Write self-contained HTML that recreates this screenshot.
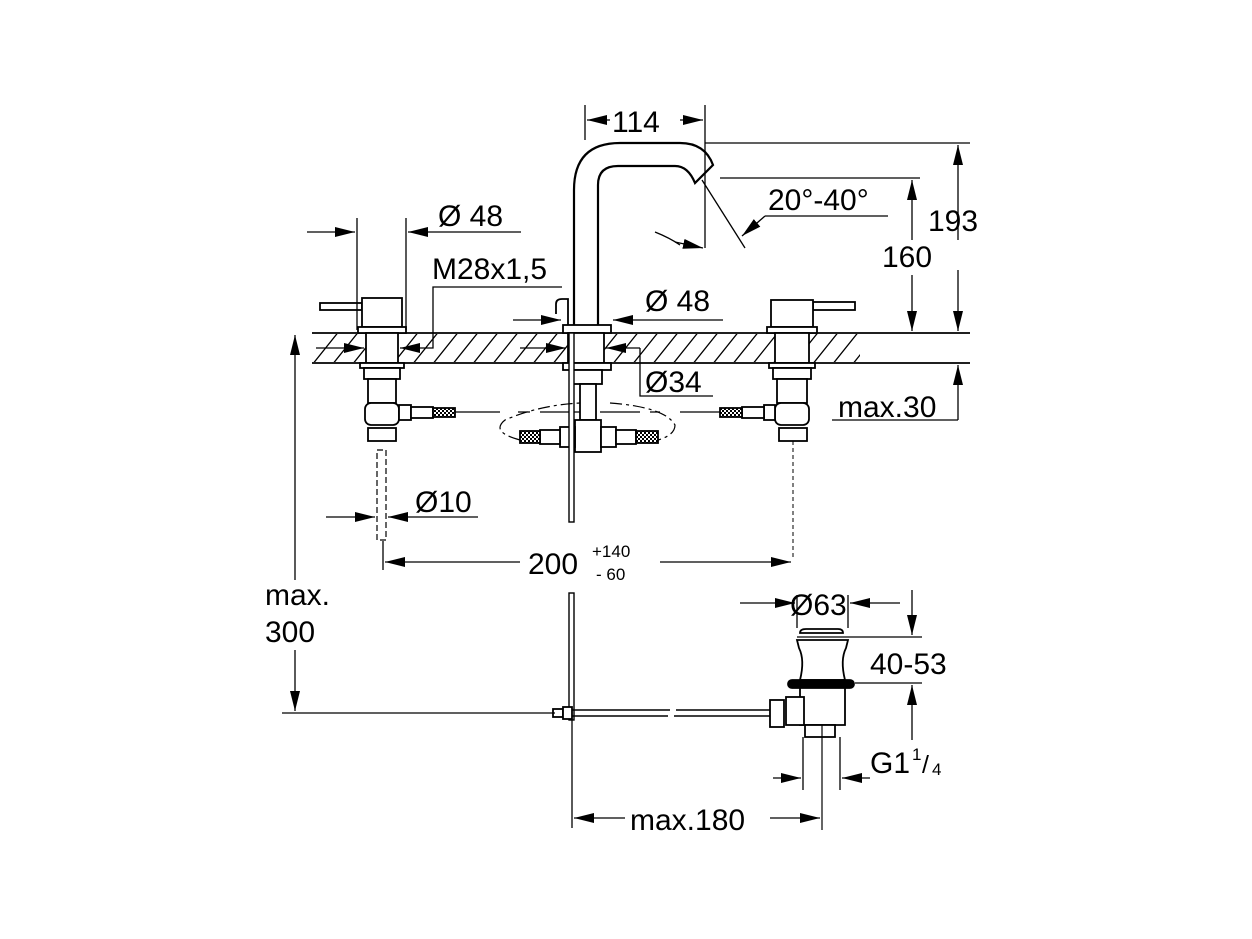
<!DOCTYPE html>
<html><head><meta charset="utf-8"><style>
html,body{margin:0;padding:0;background:#fff}
svg{display:block}
text{font-family:"Liberation Sans",sans-serif;fill:#000}
</style></head><body>
<svg width="1252" height="939" viewBox="0 0 1252 939" xmlns="http://www.w3.org/2000/svg">
<defs>
<marker id="a" viewBox="0 0 20 10" refX="20" refY="5" markerWidth="20" markerHeight="10" markerUnits="userSpaceOnUse" orient="auto"><path d="M0,0 L20,5 L0,10 Z" fill="#000"/></marker>
<clipPath id="hc"><rect x="312" y="334" width="548" height="28"/></clipPath>
<pattern id="hose" width="4" height="4" patternUnits="userSpaceOnUse"><rect width="4" height="4" fill="#fff"/><rect width="2" height="2" fill="#000"/><rect x="2" y="2" width="2" height="2" fill="#000"/></pattern>
</defs>
<g stroke="#000" fill="none" stroke-width="1.8">
<!-- counter -->
<line x1="312" y1="333" x2="970" y2="333"/>
<line x1="312" y1="363" x2="970" y2="363"/>
<g clip-path="url(#hc)" stroke-width="1.3">
<path d="M300,380 l40,-50 M320,380 l40,-50 M340,380 l40,-50 M360,380 l40,-50 M380,380 l40,-50 M400,380 l40,-50 M420,380 l40,-50 M440,380 l40,-50 M460,380 l40,-50 M480,380 l40,-50 M500,380 l40,-50 M520,380 l40,-50 M540,380 l40,-50 M560,380 l40,-50 M580,380 l40,-50 M600,380 l40,-50 M620,380 l40,-50 M640,380 l40,-50 M660,380 l40,-50 M680,380 l40,-50 M700,380 l40,-50 M720,380 l40,-50 M740,380 l40,-50 M760,380 l40,-50 M780,380 l40,-50 M800,380 l40,-50 M820,380 l40,-50 M840,380 l40,-50"/>
</g>
<!-- left valve -->
<g fill="#fff">
<rect x="320" y="303" width="42" height="7"/>
<rect x="362" y="298" width="40" height="29"/>
<rect x="358" y="327" width="48" height="6"/>
<rect x="366" y="333" width="32" height="30"/>
<rect x="360" y="363" width="44" height="5"/>
<rect x="364" y="368" width="36" height="11"/>
<rect x="368" y="379" width="28" height="24"/>
<rect x="365" y="403" width="34" height="22" rx="6"/>
<rect x="399" y="405" width="12" height="15"/>
<rect x="411" y="407" width="22" height="11"/>
<rect x="433" y="408" width="22" height="9" fill="url(#hose)"/>
<rect x="368" y="428" width="28" height="13"/>
</g>
<line x1="455" y1="412" x2="500" y2="412" stroke-width="1.2"/>
<path d="M518,412 H530 M540,412 H590" stroke-width="1.2"/>
<rect x="377" y="450" width="9" height="90" stroke-dasharray="6,3" stroke-width="1.2"/>
<!-- right valve -->
<g fill="#fff">
<rect x="813" y="302" width="42" height="8"/>
<rect x="771" y="300" width="42" height="27"/>
<rect x="767" y="327" width="50" height="6"/>
<rect x="775" y="333" width="34" height="30"/>
<rect x="769" y="363" width="46" height="5"/>
<rect x="773" y="368" width="38" height="11"/>
<rect x="777" y="379" width="30" height="24"/>
<rect x="775" y="403" width="34" height="22" rx="6"/>
<rect x="764" y="405" width="11" height="15"/>
<rect x="742" y="407" width="22" height="11"/>
<rect x="720" y="408" width="22" height="9" fill="url(#hose)"/>
<rect x="779" y="428" width="28" height="13"/>
</g>
<path d="M720,412 H680 M660,412 H650 M640,412 H600" stroke-width="1.2"/>
<line x1="793" y1="441" x2="793" y2="560" stroke-dasharray="4,3" stroke-width="1"/>
<!-- spout -->
<path d="M574,325 V190 Q574,143 620,143 H680 Q705,143 713,165 L695,183 Q688,166 675,166 H618 Q598,166 598,185 V325" fill="#fff" stroke-width="2.2"/>
<path d="M556,314 V304 Q556,299 562,299 H568 V325" stroke-width="1.8"/>
<rect x="563" y="325" width="48" height="8" fill="#fff"/>
<rect x="568" y="333" width="36" height="30" fill="#fff"/>
<rect x="563" y="363" width="48" height="7" fill="#fff"/>
<rect x="572" y="370" width="30" height="14" fill="#fff"/>
<rect x="580" y="384" width="16" height="36" fill="#fff"/>
<rect x="575" y="420" width="26" height="32" fill="#fff"/>
<rect x="560" y="427" width="15" height="20" fill="#fff"/>
<rect x="540" y="430" width="20" height="14" fill="#fff"/>
<rect x="520" y="431" width="20" height="12" fill="url(#hose)"/>
<rect x="601" y="427" width="15" height="20" fill="#fff"/>
<rect x="616" y="430" width="20" height="14" fill="#fff"/>
<rect x="636" y="431" width="22" height="12" fill="url(#hose)"/>
<rect x="569" y="333" width="5" height="189" fill="#fff" stroke-width="1.4"/>
<path d="M520,440 Q490,432 505,420 Q540,405 580,403 M610,403 Q665,407 675,425 Q675,435 658,440" stroke-dasharray="12,4,3,4" stroke-width="1.2"/>
<!-- drain -->
<rect x="569" y="593" width="5" height="127" fill="#fff" stroke-width="1.4"/>
<path d="M561,710 H670 M561,716 H668 M676,710 H775 M674,716 H775" stroke-width="1.4"/>
<rect x="553" y="709" width="10" height="8" fill="#fff"/>
<rect x="563" y="707" width="9" height="12" fill="#fff"/>
<path d="M800,633 Q800,629 806,629 H838 Q843,629 843,633 Z" fill="#fff"/>
<path d="M797,640 H848 L846,648 Q840,660 845,680 H800 Q805,660 799,648 Z" fill="#fff"/>
<rect x="788" y="680" width="66" height="8" rx="4" fill="#000"/>
<path d="M800,688 H845 V725 H800 Z" fill="#fff"/>
<rect x="786" y="697" width="18" height="28" fill="#fff"/>
<rect x="770" y="700" width="14" height="27" fill="#fff"/>
<rect x="805" y="725" width="30" height="12" fill="#fff"/>
<line x1="822" y1="725" x2="822" y2="830" stroke-width="1.2"/>
<!-- dimension lines -->
<g stroke-width="1.3">
<path d="M585,105 V140 M705,105 V248"/>
<line x1="610" y1="120" x2="587" y2="120" marker-end="url(#a)"/>
<line x1="680" y1="120" x2="703" y2="120" marker-end="url(#a)"/>
<path d="M705,143 H970 M720,178 H920"/>
<line x1="958" y1="240" x2="958" y2="145" marker-end="url(#a)"/>
<line x1="958" y1="270" x2="958" y2="331" marker-end="url(#a)"/>
<line x1="912" y1="240" x2="912" y2="180" marker-end="url(#a)"/>
<line x1="912" y1="275" x2="912" y2="331" marker-end="url(#a)"/>
<path d="M702,180 L745,248"/>
<line x1="888" y1="216" x2="765" y2="216"/>
<line x1="765" y1="216" x2="742" y2="236" marker-end="url(#a)"/>
<path d="M655,232 Q670,238 680,245"/>
<line x1="675" y1="242" x2="703" y2="248" marker-end="url(#a)"/>
<line x1="958" y1="420" x2="958" y2="365" marker-end="url(#a)"/>
<line x1="832" y1="420" x2="958" y2="420"/>
<path d="M357,218 V330 M406,218 V330"/>
<line x1="307" y1="232" x2="355" y2="232" marker-end="url(#a)"/>
<line x1="521" y1="232" x2="408" y2="232" marker-end="url(#a)"/>
<path d="M562,287 H433 V348 H425"/>
<line x1="425" y1="348" x2="400" y2="348" marker-end="url(#a)"/>
<line x1="316" y1="348" x2="364" y2="348" marker-end="url(#a)"/>
<line x1="513" y1="320" x2="561" y2="320" marker-end="url(#a)"/>
<line x1="723" y1="320" x2="613" y2="320" marker-end="url(#a)"/>
<line x1="520" y1="348" x2="566" y2="348" marker-end="url(#a)"/>
<line x1="640" y1="348" x2="606" y2="348" marker-end="url(#a)"/>
<path d="M640,348 V396 H713"/>
<path d="M282,713 H555"/>
<line x1="295" y1="580" x2="295" y2="335" marker-end="url(#a)"/>
<line x1="295" y1="650" x2="295" y2="711" marker-end="url(#a)"/>
<line x1="326" y1="517" x2="375" y2="517" marker-end="url(#a)"/>
<line x1="478" y1="517" x2="388" y2="517" marker-end="url(#a)"/>
<line x1="383" y1="541" x2="383" y2="570"/>
<line x1="520" y1="562" x2="385" y2="562" marker-end="url(#a)"/>
<line x1="660" y1="562" x2="791" y2="562" marker-end="url(#a)"/>
<path d="M797,595 V628 M848,595 V628 M797,637 H922"/>
<line x1="740" y1="603" x2="795" y2="603" marker-end="url(#a)"/>
<line x1="900" y1="603" x2="850" y2="603" marker-end="url(#a)"/>
<line x1="912" y1="590" x2="912" y2="635" marker-end="url(#a)"/>
<path d="M855,683 H922"/>
<line x1="912" y1="740" x2="912" y2="685" marker-end="url(#a)"/>
<path d="M803,737 V790 M840,737 V790"/>
<line x1="773" y1="778" x2="801" y2="778" marker-end="url(#a)"/>
<line x1="870" y1="778" x2="842" y2="778" marker-end="url(#a)"/>
<line x1="572" y1="720" x2="572" y2="828"/>
<line x1="625" y1="818" x2="574" y2="818" marker-end="url(#a)"/>
<line x1="770" y1="818" x2="820" y2="818" marker-end="url(#a)"/>
</g>
</g>
<g font-size="30">
<text x="612" y="132">114</text>
<text x="928" y="231">193</text>
<text x="882" y="267">160</text>
<text x="768" y="210">20°-40°</text>
<text x="838" y="417">max.30</text>
<text x="438" y="226">Ø 48</text>
<text x="432" y="279">M28x1,5</text>
<text x="645" y="311">Ø 48</text>
<text x="645" y="392">Ø34</text>
<text x="265" y="605">max.</text>
<text x="265" y="642">300</text>
<text x="415" y="512">Ø10</text>
<text x="528" y="574">200</text>
<text x="790" y="615">Ø63</text>
<text x="870" y="674">40-53</text>
<text x="870" y="773">G1</text>
<text x="630" y="830">max.180</text>
</g>
<text x="592" y="557" font-size="17">+140</text>
<text x="596" y="580" font-size="17">- 60</text>
<text x="912" y="760" font-size="17">1</text>
<text x="922" y="773" font-size="25">/</text>
<text x="932" y="775" font-size="17">4</text>
</svg>
</body></html>
